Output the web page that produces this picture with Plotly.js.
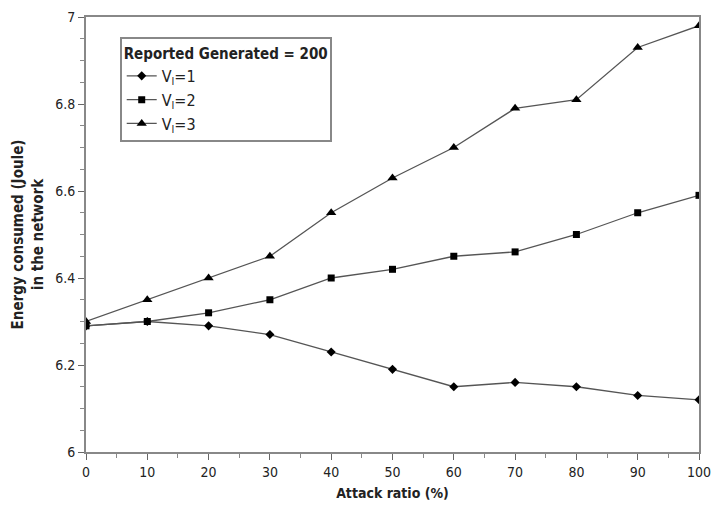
<!DOCTYPE html>
<html><head><meta charset="utf-8">
<script src="https://cdn.plot.ly/plotly-3.0.1.min.js"></script>
<style>body{margin:0;background:#fff}#c{width:715px;height:508px}</style>
</head><body><div id="c"></div>
<script>
const attackRatio = [0,10,20,30,40,50,60,70,80,90,100];
const v1 = [6.29,6.30,6.29,6.27,6.23,6.19,6.15,6.16,6.15,6.13,6.12];
const v2 = [6.29,6.30,6.32,6.35,6.40,6.42,6.45,6.46,6.50,6.55,6.59];
const v3 = [6.30,6.35,6.40,6.45,6.55,6.63,6.70,6.79,6.81,6.93,6.98];
const names = ['V<sub>l</sub>=1','V<sub>l</sub>=2','V<sub>l</sub>=3'];
const symbols = ['diamond','square','triangle-up'];
const series = [v1,v2,v3];
const font = "'DejaVu Sans Condensed', 'DejaVu Sans', sans-serif";
const traces = series.map((s,i)=>({
  x: attackRatio, y: s, name: names[i], type:'scatter', mode:'lines+markers',
  line:{color:'#555', width:1.3},
  marker:{symbol:symbols[i], color:'#000', size: i===2?9:7}
}));
const axBase = {
  showline:true, linecolor:'#888', linewidth:2, mirror:true,
  ticks:'outside', ticklen:6, tickcolor:'#666', showgrid:false, zeroline:false,
  tickfont:{family:font,size:14,color:'#222'},
  minor:{ticks:'outside', ticklen:4, tickcolor:'#888'}
};
const layout = {
  width:715, height:508,
  margin:{l:86,r:16,t:17,b:56},
  paper_bgcolor:'#fff', plot_bgcolor:'#fff',
  font:{family:font,color:'#222'},
  xaxis:Object.assign({}, axBase, {range:[0,100], tickvals:attackRatio,
    minor:{ticks:'outside', ticklen:4, tickcolor:'#888', dtick:5},
    title:{text:'<b>Attack ratio (%)</b>', font:{family:font,size:14,color:'#222'}, standoff:9}}),
  yaxis:Object.assign({}, axBase, {range:[6,7], tickvals:[6,6.2,6.4,6.6,6.8,7],
    ticktext:['6','6.2','6.4','6.6','6.8','7'],
    minor:{ticks:'outside', ticklen:4, tickcolor:'#888', dtick:0.05},
    title:{text:'<b>Energy consumed (Joule)<br>in the network</b>', font:{family:font,size:15,color:'#222'}, standoff:8}}),
  showlegend:true,
  legend:{x:0.055, y:0.953, xanchor:'left', yanchor:'top',
    bordercolor:'#888', borderwidth:2, bgcolor:'#fff',
    title:{text:'<b>Reported Generated = 200</b>', font:{family:font,size:15,color:'#222'}},
    font:{family:font,size:16,color:'#222'}, tracegroupgap:0, itemwidth:30}
};
Plotly.newPlot('c', traces, layout, {displayModeBar:false, staticPlot:true});
</script></body></html>
